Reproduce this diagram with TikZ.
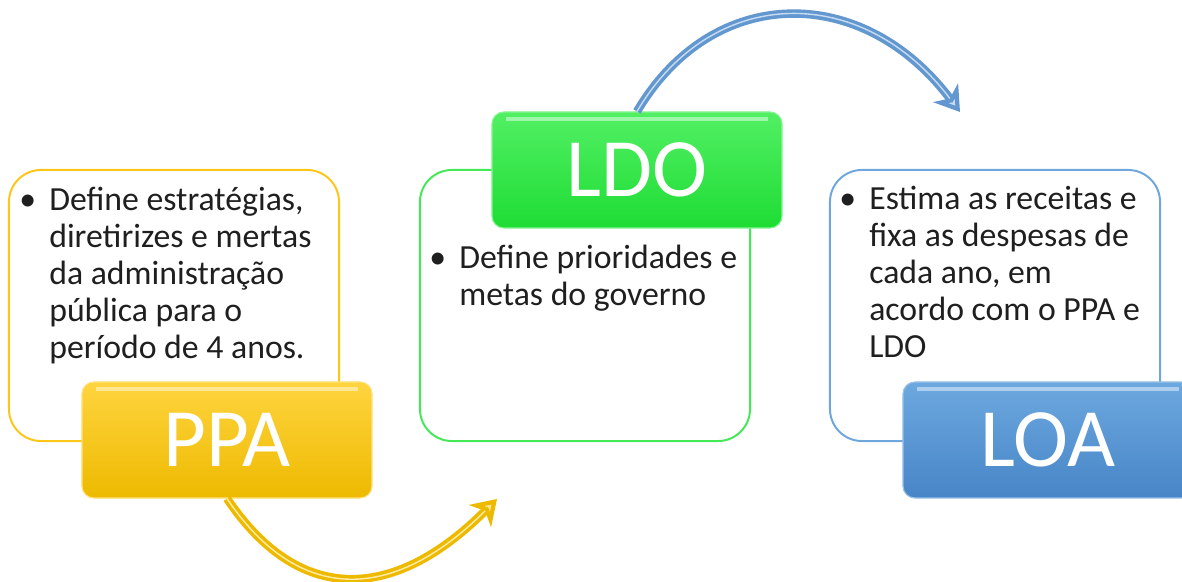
\documentclass[tikz,border=0pt]{standalone}
\usepackage{fontspec}
\setmainfont{Carlito}
\usepackage{xcolor}
\usepackage{tikz}
\usetikzlibrary{shapes.geometric, arrows.meta}
\definecolor{ppaLine}{HTML}{FFC61A}
\definecolor{ppaTop}{HTML}{FFD43F}
\definecolor{ppaBot}{HTML}{EDBA00}
\definecolor{ldoLine}{HTML}{45E957}
\definecolor{ldoTop}{HTML}{52F064}
\definecolor{ldoBot}{HTML}{1EDC34}
\definecolor{loaLine}{HTML}{6FA6DC}
\definecolor{loaTop}{HTML}{6DA8DF}
\definecolor{loaBot}{HTML}{4785C7}
\tikzstyle{txtbox} = [rectangle, rounded corners=0.8cm, minimum width=8.25cm, minimum height=6.775cm, line width=1.4pt, fill=white]
\tikzstyle{titlebox} = [rectangle, rounded corners=0.3cm, minimum width=7.25cm, minimum height=2.9cm, text=white, font=\fontsize{59}{60}\selectfont, line width=0.8pt, path picture={\draw[white, opacity=0.45, line width=2.5pt] ([xshift=10pt,yshift=-5pt]path picture bounding box.north west) -- ([xshift=-10pt,yshift=-5pt]path picture bounding box.north east);}]
\tikzstyle{bullettxt} = [anchor=base west, inner sep=0pt, font=\fontsize{24}{26.3}\selectfont, text=black!88]
\tikzstyle{bendarrow} = [line width=6pt]
\newcommand{\bulletlist}[1]{\makebox[0.75cm][l]{\textbullet}\parbox[t]{7.4cm}{\raggedright #1}}

\begin{document}
\begin{tikzpicture}[x=0.025cm, y=-0.025cm]
   \useasboundingbox (0,0) rectangle (1182,582);
   \node (ppaBox) [txtbox, draw=ppaLine] at (174,305.5) {};
   \node (ldoBox) [txtbox, draw=ldoLine] at (585,305.5) {};
   \node (loaBox) [txtbox, draw=loaLine] at (995,305.5) {};
   \node (ppaTxt) [bullettxt] at (19,211) {\bulletlist{Define estratégias,\\diretirizes e mertas\\da administração\\pública para o\\período de 4 anos.}};
   \node (ldoTxt) [bullettxt] at (429,269) {\bulletlist{Define prioridades e\\metas do governo}};
   \node (loaTxt) [bullettxt] at (839,210) {\bulletlist{Estima as receitas e\\fixa as despesas de\\cada ano, em\\acordo com o PPA e\\LDO}};
   \node (ppa) [titlebox, draw=ppaTop!70!white, top color=ppaTop, bottom color=ppaBot] at (227,440) {PPA};
   \node (ldo) [titlebox, draw=ldoTop!70!white, top color=ldoTop, bottom color=ldoBot] at (637,170) {LDO};
   \node (loa) [titlebox, draw=loaTop!70!white, top color=loaTop, bottom color=loaBot] at (1048,440) {LOA};
   \coordinate (ppaEnd) at (497,499);
   \coordinate (ldoEnd) at (960,112);
   \draw [bendarrow, draw=ppaBot, -{Stealth[length=17pt, width=22pt, inset=5pt, fill=ppaTop!55!white]}, postaction={draw=ppaTop!45!white, line width=1pt, -, shorten >=12pt}] (ppa.south) .. controls (298,604) and (392,604) .. (ppaEnd);
   \draw [bendarrow, draw=loaBot!85!white, -{Stealth[length=17pt, width=22pt, inset=5pt, fill=loaTop!40!white]}, postaction={draw=loaTop!40!white, line width=1pt, -, shorten >=12pt}] (ldo.north) .. controls (713,-17) and (863,-17) .. (ldoEnd);
\end{tikzpicture}
\end{document}
